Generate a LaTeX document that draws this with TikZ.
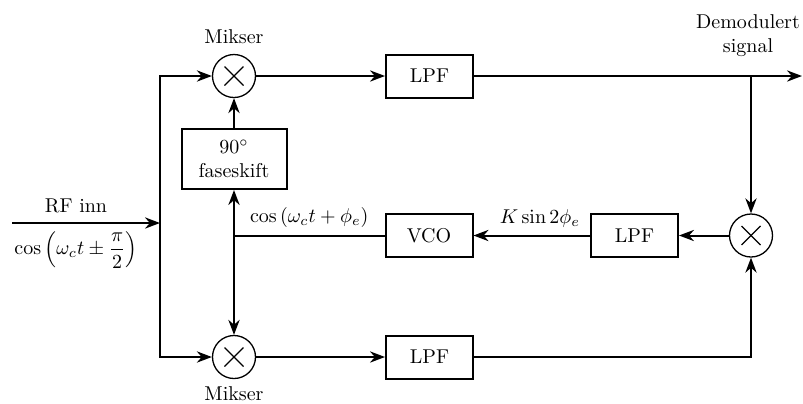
\documentclass[tikz,border=0pt]{standalone}
\usepackage{amsmath}
\usetikzlibrary{arrows.meta}
\begin{document}
\begin{tikzpicture}[x=0.5pt,y=-0.5pt,
  block/.style={draw,line width=1pt,minimum width=43.5pt,minimum height=21.5pt,inner sep=0pt},
  mixer/.style={draw,line width=0.65pt,circle,minimum size=21.5pt,inner sep=0pt,
    path picture={
      \draw[line width=0.65pt] ([shift={(-4.75pt,-4.75pt)}]path picture bounding box.center)
        -- ([shift={(4.75pt,4.75pt)}]path picture bounding box.center);
      \draw[line width=0.65pt] ([shift={(-4.75pt,4.75pt)}]path picture bounding box.center)
        -- ([shift={(4.75pt,-4.75pt)}]path picture bounding box.center);
    }},
  wire/.style={line width=1pt},
  sig/.style={line width=1pt,-{Stealth}},
  tag/.style={inner sep=0.5pt},
]
\useasboundingbox (0,0) rectangle (803,403);

% blocks
\node[mixer] (mixT) at (234,76) {};
\node[block] (lpfT) at (429.5,76) {LPF};
\node[draw,line width=1pt,minimum width=52.5pt,minimum height=30pt,inner sep=0pt,align=center]
  (phase) at (234,159) {$90^\circ$\\faseskift};
\node[block] (vco) at (429,235.5) {VCO};
\node[block] (lpfM) at (634.5,235.5) {LPF};
\node[mixer] (mixR) at (751,235.5) {};
\node[mixer] (mixB) at (234,357) {};
\node[block] (lpfB) at (429.5,357) {LPF};

% text labels
\node[tag] (mikT) at (234,37) {Mikser};
\node[tag] (mikB) at (234,394) {Mikser};
\node[tag,align=center] (demod) at (748,36) {Demodulert\\signal};
\node[tag] (rftext) at (76,206) {RF inn};
\node[tag] (rfcos) at (76,250) {$\displaystyle\cos\left(\omega_c t\pm\frac{\pi}{2}\right)$};

% helper points
\coordinate (split) at (160,223);
\coordinate (rfsrc) at (12,223);
\coordinate (tap) at (751,76);
\coordinate (out) at (802,76);
\coordinate (join) at (234,235.5);

% connections
\draw[sig] (rfsrc) -- (split);
\draw[sig] (split) |- (mixT);
\draw[sig] (split) |- (mixB);
\draw[sig] (phase) -- (mixT);
\draw[sig] (mixT) -- (lpfT);
\draw[sig] (lpfT) -- (out);
\draw[sig] (tap) -- (mixR);
\draw[sig] (mixR) -- (lpfM);
\draw[sig] (lpfM) -- node[above,pos=0.43] {$K\sin 2\phi_e$} (vco);
\draw[wire] (vco) -- node[above] {$\cos\left(\omega_c t+\phi_e\right)$} (join);
\draw[line width=1pt,{Stealth}-{Stealth}] (phase) -- (mixB);
\draw[sig] (mixB) -- (lpfB);
\draw[sig] (lpfB) -| (mixR);
\end{tikzpicture}
\end{document}
